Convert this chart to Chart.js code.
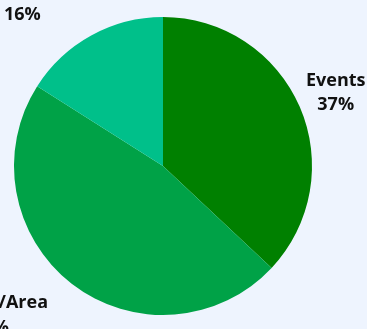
<!DOCTYPE html>
<html>
<head>
<meta charset="utf-8">
<script src="https://cdn.jsdelivr.net/npm/chart.js@4/dist/chart.umd.min.js"></script>
<style>
  html, body { margin: 0; padding: 0; background: #EEF4FE; }
  #wrap { width: 367px; height: 329px; position: relative; }
</style>
</head>
<body>
<div id="wrap"><canvas id="c"></canvas></div>
<script>
const categories = ['Events', 'Venues/Area', 'Restaurant'];
const shares = [37, 47, 16];
const sliceColors = ['#008000', '#00A247', '#00C08A'];

const outsideLabels = {
  id: 'outsideLabels',
  afterDatasetsDraw(chart, args, opts) {
    const ctx = chart.ctx;
    const meta = chart.getDatasetMeta(0);
    ctx.save();
    ctx.font = opts.font;
    ctx.fillStyle = opts.color;
    ctx.textAlign = 'center';
    ctx.textBaseline = 'alphabetic';
    meta.data.forEach((arc, i) => {
      const mid = (arc.startAngle + arc.endAngle) / 2;
      const d = arc.outerRadius + opts.gap;
      const px = arc.x + Math.cos(mid) * d;
      const py = arc.y + Math.sin(mid) * d;
      const lines = [chart.data.labels[i], chart.data.datasets[0].data[i] + '%'];
      const w = Math.max(...lines.map(l => ctx.measureText(l).width));
      let cx = Math.cos(mid) >= 0 ? px + w / 2 : px - w / 2;
      if (cx + w / 2 > chart.width - opts.edge) cx = chart.width - opts.edge - w / 2;
      lines.forEach((l, k) => {
        const by = py + (k - (lines.length - 1) / 2) * opts.lineHeight + opts.capHeight / 2;
        ctx.fillText(l, cx, by);
      });
    });
    ctx.restore();
  }
};

new Chart(document.getElementById('c'), {
  type: 'pie',
  data: {
    labels: categories,
    datasets: [{
      data: shares,
      backgroundColor: sliceColors,
      borderWidth: 0,
      hoverBorderWidth: 0,
      hoverOffset: 0
    }]
  },
  options: {
    responsive: true,
    maintainAspectRatio: false,
    animation: false,
    layout: { padding: { top: 17, bottom: 14, left: 14, right: 55 } },
    plugins: {
      legend: { display: false },
      tooltip: { enabled: false },
      outsideLabels: {
        font: '700 18px "Open Sans"',
        color: '#111111',
        gap: 38.6,
        lineHeight: 24.4,
        capHeight: 12.8,
        edge: 1.5
      }
    }
  },
  plugins: [outsideLabels]
});
</script>
</body>
</html>
